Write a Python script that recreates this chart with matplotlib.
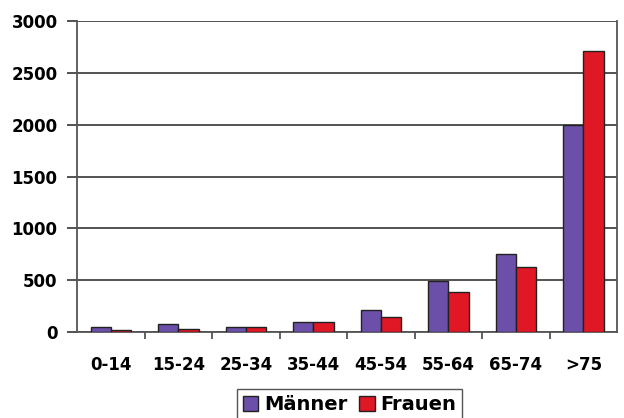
import numpy as np
from matplotlib import pyplot as plt
from matplotlib.ticker import FixedLocator

groups = ['0-14', '15-24', '25-34', '35-44', '45-54', '55-64', '65-74', '>75']
maenner = [50, 75, 50, 100, 210, 490, 750, 2000]
frauen = [20, 30, 50, 100, 145, 390, 630, 2710]

plt.rcParams['font.family'] = 'DejaVu Sans'
plt.rcParams['font.weight'] = 'bold'

fig = plt.figure(figsize=(6.24, 4.18), dpi=100)
ax = fig.add_axes([0.1234, 0.2057, 0.8656, 0.7441])

x = np.arange(len(groups))
w = 0.3
ax.bar(x - w / 2, maenner, w, color='#6B4FA8', edgecolor='#222222', linewidth=1, label='Männer', zorder=3)
ax.bar(x + w / 2, frauen, w, color='#E01825', edgecolor='#222222', linewidth=1, label='Frauen', zorder=3)

ax.set_xlim(-0.5, len(groups) - 0.5)
ax.set_ylim(0, 3000)
ax.set_yticks(range(0, 3001, 500))
ax.grid(axis='y', color='#444444', linewidth=1.3, zorder=1)

ax.set_xticks(x)
ax.set_xticklabels(groups)
ax.xaxis.set_minor_locator(FixedLocator(np.arange(0.5, len(groups) - 0.5, 1)))
ax.tick_params(axis='x', which='major', length=0, pad=17, labelsize=12)
ax.tick_params(axis='x', which='minor', length=5, width=1.3, color='#555555')
ax.tick_params(axis='y', length=7, width=1.3, color='#444444', pad=7, labelsize=12)

for s in ['left', 'bottom', 'right']:
    ax.spines[s].set_color('#555555')
    ax.spines[s].set_linewidth(1.3)
ax.spines['top'].set_visible(False)

fig.legend(loc='upper center', bbox_to_anchor=(0.56, 1 - 389 / 418), ncol=2,
           fancybox=False, edgecolor='#555555', framealpha=1,
           prop={'size': 14, 'weight': 'bold'}, handlelength=0.8, handleheight=0.8,
           handletextpad=0.3, columnspacing=0.6, borderpad=0.3, borderaxespad=0)

fig.savefig('out.png', dpi=100)
